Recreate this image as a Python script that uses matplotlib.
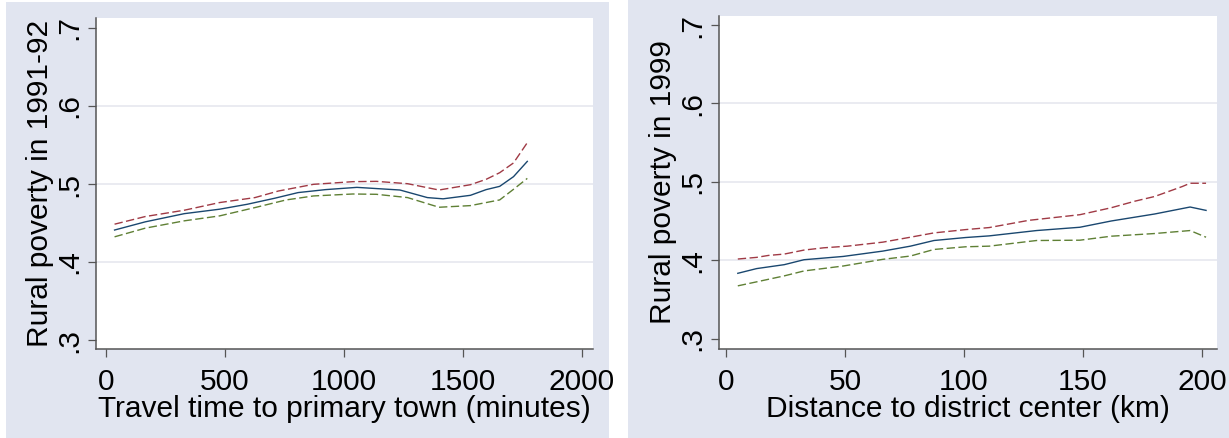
import matplotlib
matplotlib.use("Agg")
import matplotlib.pyplot as plt
from matplotlib.patches import Rectangle

plt.rcParams['font.family'] = ['Liberation Sans', 'DejaVu Sans']

# left panel: travel time to primary town
time_x = [36, 165, 329, 477, 593, 708, 807, 922, 1054, 1235, 1350, 1416, 1531, 1597, 1654, 1712, 1770]
time_fit = [0.441, 0.4515, 0.462, 0.4677, 0.474, 0.4817, 0.489, 0.4928, 0.4957, 0.4923,
            0.4826, 0.481, 0.4855, 0.4928, 0.497, 0.5094, 0.529]
time_up_x = [36, 165, 329, 477, 626, 724, 872, 1037, 1136, 1267, 1399, 1531, 1597, 1654, 1712, 1770]
time_up = [0.4485, 0.4583, 0.4664, 0.4762, 0.4826, 0.491, 0.4996, 0.503, 0.5034, 0.5004,
           0.4923, 0.4991, 0.506, 0.5145, 0.527, 0.553]
time_lo_x = [36, 165, 329, 477, 626, 757, 872, 1037, 1136, 1267, 1399, 1531, 1654, 1712, 1770]
time_lo = [0.4323, 0.4434, 0.4528, 0.4591, 0.4698, 0.4796, 0.4847, 0.4872, 0.4868, 0.4826,
           0.4702, 0.4723, 0.4796, 0.4932, 0.5072]

# right panel: distance to district center
dist_x = [5.0, 12.9, 24.5, 32.8, 49.3, 65.9, 77.5, 87.4, 100.7, 110.6, 130.5, 148.7, 161.9, 180.1, 195.0, 201.7]
dist_fit = [0.3835, 0.3895, 0.3945, 0.4008, 0.405, 0.4118, 0.4181, 0.4253, 0.4291, 0.4312,
            0.438, 0.4422, 0.4502, 0.4591, 0.468, 0.4637]
dist_up_x = [5.0, 12.9, 17.9, 24.5, 32.8, 41.1, 51.0, 65.9, 77.5, 87.4, 100.7, 110.6, 127.2,
             133.8, 148.7, 161.9, 171.9, 180.1, 191.7, 195.0, 201.7]
dist_up = [0.4017, 0.4038, 0.4063, 0.408, 0.4131, 0.416, 0.4181, 0.4232, 0.4295, 0.435, 0.4392,
           0.4418, 0.451, 0.4532, 0.4582, 0.4671, 0.4755, 0.4814, 0.4941, 0.4983, 0.4983]
dist_lo_x = [5.0, 12.9, 24.5, 32.8, 49.3, 65.9, 77.5, 87.4, 100.7, 110.6, 130.5, 148.7, 161.9, 180.1, 195.0, 201.7]
dist_lo = [0.3675, 0.3726, 0.3802, 0.3865, 0.3928, 0.4013, 0.4055, 0.4139, 0.4173, 0.4181,
           0.4253, 0.4257, 0.4308, 0.4342, 0.438, 0.4295]

y_ticks = [0.3, 0.4, 0.5, 0.6, 0.7]
y_labels = ['.3', '.4', '.5', '.6', '.7']
time_ticks = [0, 500, 1000, 1500, 2000]
dist_ticks = [0, 50, 100, 150, 200]

BG = '#e1e5f0'
GRID = '#e6e7ef'
NAVY = '#1a476f'
MAROON = '#a03a45'
GREEN = '#5f8035'
AXC = '#555555'
FS = 21.5

fig = plt.figure(figsize=(12.29, 4.38), dpi=100)
fig.patch.set_facecolor('white')
fig.patches.append(Rectangle((6 / 1229, 0), 603 / 1229, 436 / 438, transform=fig.transFigure,
                             facecolor=BG, edgecolor='none', zorder=-10))
fig.patches.append(Rectangle((628 / 1229, 0), 601 / 1229, 1, transform=fig.transFigure,
                             facecolor=BG, edgecolor='none', zorder=-10))

ax1 = fig.add_axes([96 / 1229, 89 / 438, 497 / 1229, 331 / 438])
ax2 = fig.add_axes([719 / 1229, 89 / 438, 498 / 1229, 333 / 438])


def style(ax, xt, xlim, ylim, xlabel, ylabel):
    ax.set_facecolor('white')
    ax.set_xlim(*xlim)
    ax.set_ylim(*ylim)
    ax.set_xticks(xt)
    ax.set_xticklabels([str(t) for t in xt], fontsize=FS)
    ax.set_yticks(y_ticks)
    ax.set_yticklabels(y_labels, fontsize=FS, rotation=90, va='center')
    for t in y_ticks[1:-1]:
        ax.axhline(t, color=GRID, lw=1.2, zorder=1)
    for s in ['top', 'right']:
        ax.spines[s].set_visible(False)
    for s in ['left', 'bottom']:
        ax.spines[s].set_color(AXC)
        ax.spines[s].set_linewidth(1.1)
    ax.tick_params(axis='both', length=6, width=0.9, color=AXC)
    ax.tick_params(axis='x', pad=8)
    ax.tick_params(axis='y', pad=3)
    ax.set_xlabel(xlabel, fontsize=FS, labelpad=-1)
    ax.set_ylabel(ylabel, fontsize=FS, labelpad=1)


dash = (6, 2.5)
ax1.plot(time_x, time_fit, color=NAVY, lw=1.0, zorder=3)
ax1.plot(time_up_x, time_up, color=MAROON, lw=1.0, dashes=dash, zorder=3)
ax1.plot(time_lo_x, time_lo, color=GREEN, lw=1.0, dashes=dash, zorder=3)
style(ax1, time_ticks, (-42, 2046), (0.2885, 0.7128),
      'Travel time to primary town (minutes)', 'Rural poverty in 1991-92')

ax2.plot(dist_x, dist_fit, color=NAVY, lw=1.0, zorder=3)
ax2.plot(dist_up_x, dist_up, color=MAROON, lw=1.0, dashes=dash, zorder=3)
ax2.plot(dist_lo_x, dist_lo, color=GREEN, lw=1.0, dashes=dash, zorder=3)
style(ax2, dist_ticks, (-2.9, 206.3), (0.287, 0.7115),
      'Distance to district center (km)', 'Rural poverty in 1999')

fig.savefig('out.png', dpi=100, facecolor=fig.get_facecolor())
